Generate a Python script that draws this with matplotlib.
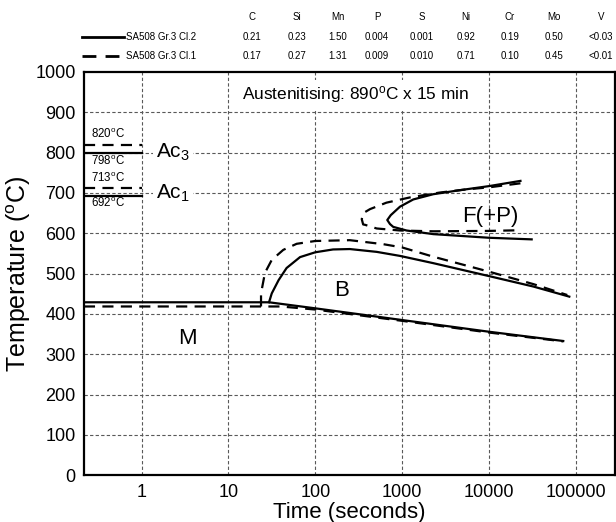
import numpy as np
import matplotlib.pyplot as plt
from matplotlib.lines import Line2D

plt.rcParams['font.family'] = ['Liberation Sans', 'DejaVu Sans']
plt.rcParams['mathtext.fontset'] = 'custom'
plt.rcParams['mathtext.rm'] = 'Liberation Sans'
plt.rcParams['mathtext.it'] = 'Liberation Sans:italic'

W, H = 616, 522

# --- data --------------------------------------------------------------
# martensite start (horizontal) + martensite/bainite lower line
ms_cl2_t = [0.216, 29.3, 100, 1000, 10000, 71900]
ms_cl2_T = [429, 429, 414, 385, 356, 333]
ms_cl1_t = [0.216, 40, 100, 1000, 10000, 72000]
ms_cl1_T = [418.6, 418.6, 411, 383, 354, 332]

# bainite start curve
bs_cl2_t = [29.3, 31.5, 37.8, 46.7, 66.7, 100, 160, 250, 510, 945, 2290, 10000, 32600, 84400]
bs_cl2_T = [429, 451, 484, 514, 541, 553, 560, 561, 554, 544, 526, 494, 468, 443]
bs_cl1_t = [23.7, 23.7, 26.3, 31.5, 42.8, 61, 100, 250, 610, 1000, 2290, 10000, 32600, 80000]
bs_cl1_T = [418.6, 451, 502, 534, 559, 574, 581, 583, 573, 565, 542, 505, 474, 447]

# ferrite (+pearlite) start C-curve
fs_cl2_t = [23100, 10000, 4640, 2290, 1346, 945, 740, 675, 725, 790, 1125, 2290, 10000, 31100]
fs_cl2_T = [730, 717, 707, 697, 684, 666, 645, 633, 623, 616, 607, 598, 589, 585]
fs_cl1_t = [23100, 10000, 5550, 2700, 1230, 660, 427, 356, 343, 356, 375, 510, 945, 2290, 10000, 21500]
fs_cl1_T = [724, 714, 709, 701, 689, 676, 660, 650, 635, 622, 621, 612, 607, 605, 606, 607.5]

# Ac temperatures
ac_T = [820, 798, 713, 692]
ac_style = ['--', '-', '--', '-']
ac_labels = ['820', '798', '713', '692']
ac_label_T = [846, 780, 736, 674]

xticks = [1, 10, 100, 1000, 10000, 100000]
xtick_labels = ['1', '10', '100', '1000', '10000', '100000']
yticks = [0, 100, 200, 300, 400, 500, 600, 700, 800, 900, 1000]

# composition table
elements = ['C', 'Si', 'Mn', 'P', 'S', 'Ni', 'Cr', 'Mo', 'V']
comp_cl2 = ['0.21', '0.23', '1.50', '0.004', '0.001', '0.92', '0.19', '0.50', '<0.03']
comp_cl1 = ['0.17', '0.27', '1.31', '0.009', '0.010', '0.71', '0.10', '0.45', '<0.01']
col_x = [252, 297, 338, 377, 422, 466, 510, 554, 601]
grades = ['SA508 Gr.3 Cl.2', 'SA508 Gr.3 Cl.1']

# --- figure --------------------------------------------------------------
fig = plt.figure(figsize=(W / 100, H / 100), dpi=100)
ax = fig.add_axes([84 / W, 1 - 475.3 / H, (615 - 84) / W, (475.3 - 72) / H])
ax.set_xscale('log')
ax.set_xlim(0.2164, 283700)
ax.set_ylim(0, 1000)

dash = (0, (5, 3.3))
lw = 1.6
gkw = dict(color='0.35', lw=0.8, ls=(0, (3, 2)), zorder=1)
for xv in xticks:
    ax.axvline(xv, **gkw)
for yv in yticks[1:-1]:
    ax.axhline(yv, **gkw)

ax.plot(ms_cl2_t, ms_cl2_T, 'k-', lw=lw, zorder=3)
ax.plot(ms_cl1_t, ms_cl1_T, 'k', ls=dash, lw=lw, zorder=3)
ax.plot(bs_cl2_t, bs_cl2_T, 'k-', lw=lw, zorder=3)
ax.plot(bs_cl1_t, bs_cl1_T, 'k', ls=dash, lw=lw, zorder=3)
ax.plot(fs_cl2_t, fs_cl2_T, 'k-', lw=lw, zorder=3)
ax.plot(fs_cl1_t, fs_cl1_T, 'k', ls=dash, lw=lw, zorder=3)

deg = r'$^{\rm o}$C'
for T, st, lab, lt in zip(ac_T, ac_style, ac_labels, ac_label_T):
    ax.plot([0.2164, 1], [T, T], color='k', ls=dash if st == '--' else '-', lw=lw, zorder=3)
    ax.text(0.258, lt, lab + deg, fontsize=8.3, va='center', ha='left', zorder=4)

box = dict(fc='white', ec='none', pad=2)
ax.text(1.46, 788.5, r'Ac$_3$', fontsize=15, va='baseline', ha='left', zorder=4, bbox=box)
ax.text(1.46, 687, r'Ac$_1$', fontsize=15, va='baseline', ha='left', zorder=4, bbox=box)
ax.text(14.2, 945, 'Austenitising: 890' + deg + ' x 15 min', fontsize=12.4,
        va='center', ha='left', zorder=4, bbox=dict(fc='white', ec='none', pad=3))
ax.text(203, 459, 'B', fontsize=16, ha='center', va='center', zorder=4)
ax.text(3.4, 340, 'M', fontsize=16, ha='center', va='center', zorder=4)
ax.text(10500, 641, 'F(+P)', fontsize=16, ha='center', va='center', zorder=4)

ax.set_xticks(xticks)
ax.set_xticklabels(xtick_labels)
ax.xaxis.set_minor_locator(plt.NullLocator())
ax.set_yticks(yticks)
ax.tick_params(length=0, labelsize=13, pad=6)
for sp in ax.spines.values():
    sp.set_linewidth(1.6)
ax.set_xlabel('Time (seconds)', fontsize=16, labelpad=1)
ax.set_ylabel('Temperature (' + deg + ')', fontsize=18, labelpad=2)

# composition header
for name, cx in zip(elements, col_x):
    fig.text(cx / W, 1 - 17 / H, name, fontsize=7, ha='center', va='center')
for row_y, vals, g, st in [(37, comp_cl2, grades[0], '-'), (56, comp_cl1, grades[1], dash)]:
    fig.add_artist(Line2D([82 / W, 124 / W], [1 - row_y / H] * 2, color='k', lw=2, ls=st))
    fig.text(126 / W, 1 - row_y / H, g, fontsize=7, ha='left', va='center')
    for v, cx in zip(vals, col_x):
        fig.text(cx / W, 1 - row_y / H, v, fontsize=7, ha='center', va='center')

fig.savefig('out.png', dpi=100)
